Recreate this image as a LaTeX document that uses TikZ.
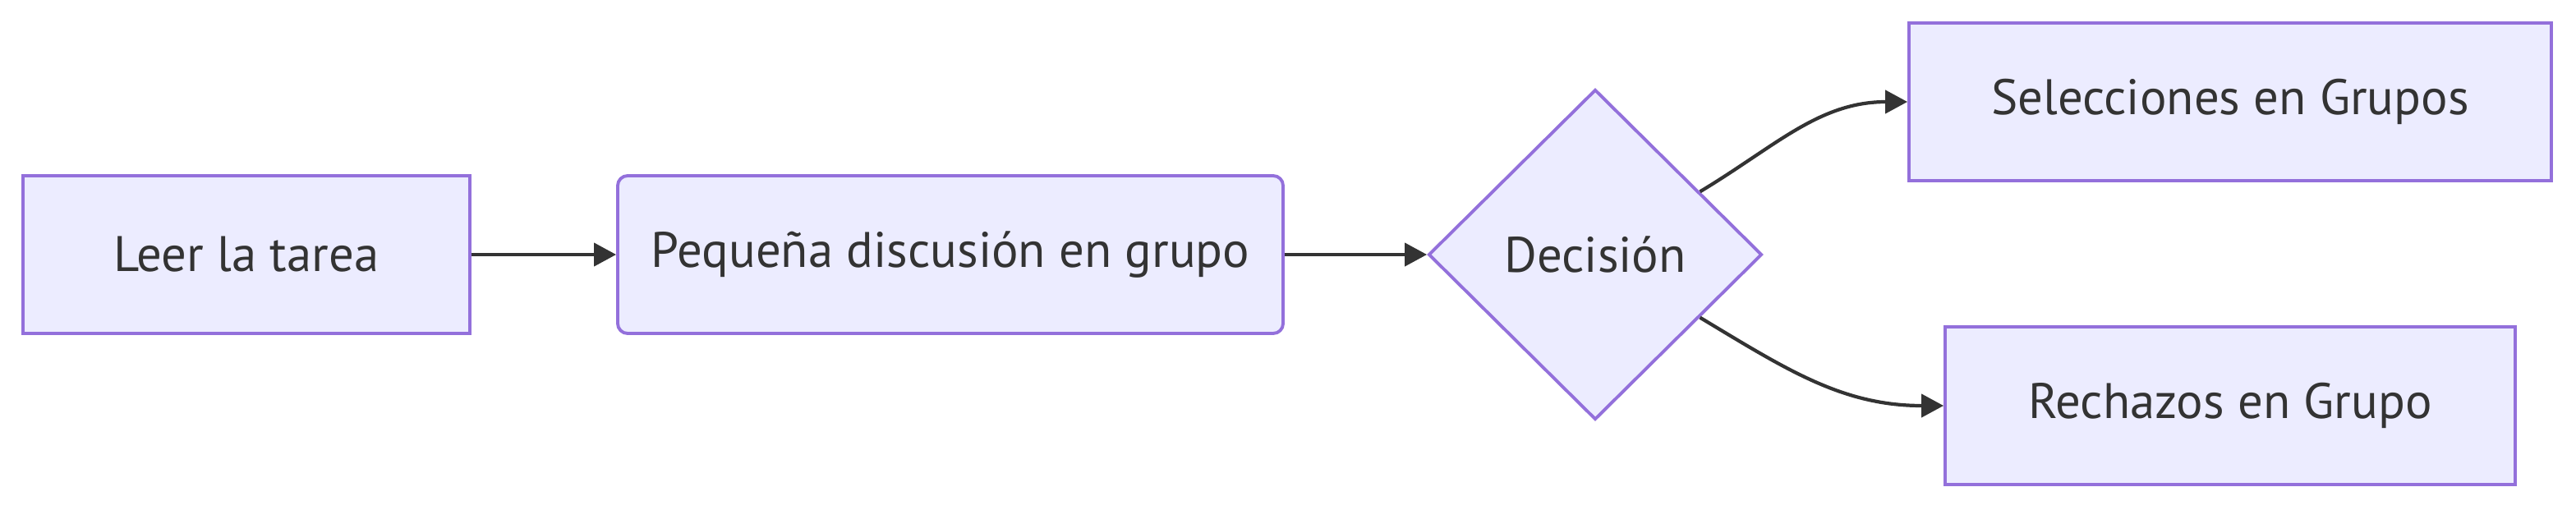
\documentclass[tikz,border=0pt]{standalone}
\usepackage{fontspec}
\setmainfont{PT Sans}
\usepackage{xcolor}
\usetikzlibrary{shapes.geometric,arrows.meta}

\definecolor{boxfill}{HTML}{ECECFF}
\definecolor{boxline}{HTML}{9370DB}
\definecolor{ink}{HTML}{333333}

\begin{document}
\begin{tikzpicture}[
	box/.style = {draw=boxline, fill=boxfill, line width=1.1pt, minimum height=1.92cm, text=ink, font=\fontsize{17.3}{20}\selectfont},
	decbox/.style = {diamond, aspect=1, draw=boxline, fill=boxfill, line width=1.1pt, minimum width=4.06cm, minimum height=4.02cm, inner sep=0pt, text=ink, font=\fontsize{17.3}{20}\selectfont},
	link/.style = {draw=ink, line width=1.2pt, -{Triangle[length=0.27cm, width=0.28cm]}}
	]
	\useasboundingbox (0,0) rectangle (31.36,6.2);

	\node[box, minimum width=5.44cm] (leer) at (3.00,3.10) {Leer la tarea};
	\node[box, minimum width=8.10cm, rounded corners=0.12cm] (charla) at (11.57,3.10) {Pequeña discusión en grupo};
	\node[decbox] (decision) at (19.42,3.10) {Decisión};
	\node[box, minimum width=7.82cm] (selec) at (27.15,4.96) {Selecciones en Grupos};
	\node[box, minimum width=6.94cm] (rechazo) at (27.15,1.26) {Rechazos en Grupo};

	\draw[link] (leer) -- (charla);
	\draw[link] (charla) -- (decision);
	\draw[link] (decision.31) to[out=31, in=180] (selec.west);
	\draw[link] (decision.-31) to[out=-31, in=180] (rechazo.west);
\end{tikzpicture}
\end{document}
